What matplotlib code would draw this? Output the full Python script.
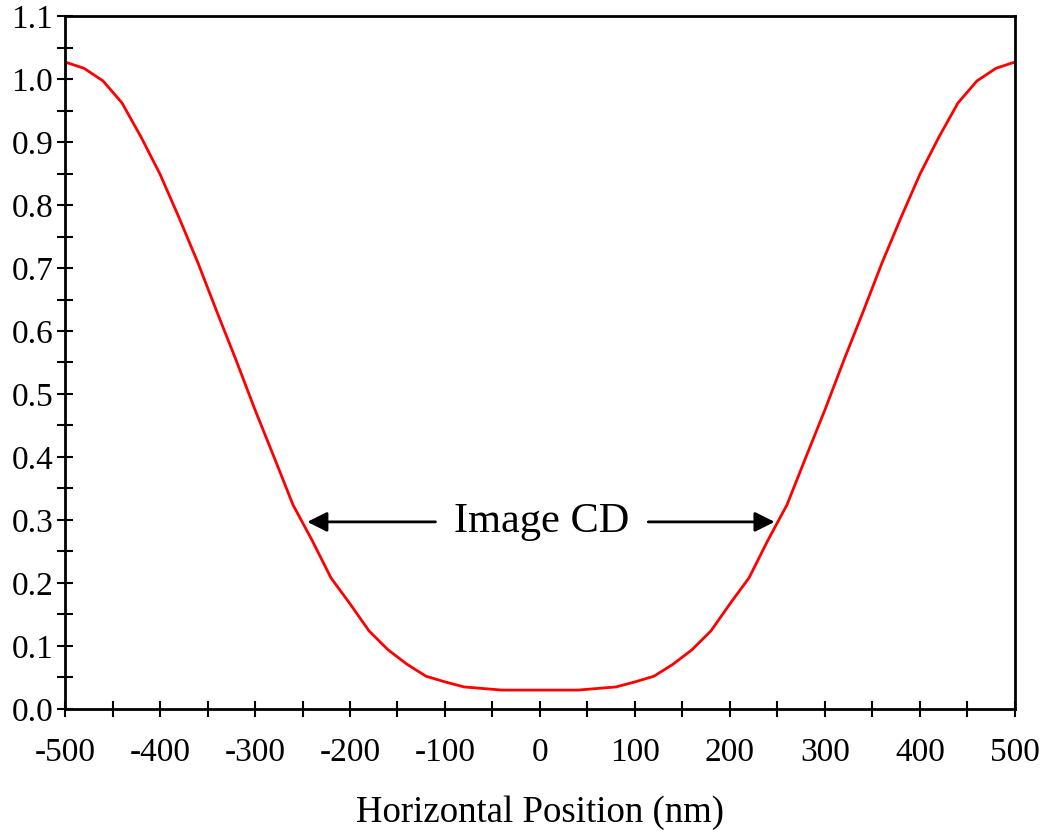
import matplotlib.pyplot as plt
from matplotlib.ticker import MultipleLocator

plt.rcParams['font.family'] = ['Liberation Serif', 'DejaVu Serif']
plt.rcParams['axes.unicode_minus'] = False

# horizontal position (nm) and relative intensity of the aerial image
position = [-500, -480, -460, -440, -420, -400, -380, -360, -340, -320, -300,
            -280, -260, -240, -220, -200, -180, -160, -140, -120, -100, -80,
            -40, 0, 40, 80, 100, 120, 140, 160, 180, 200, 220, 240, 260, 280,
            300, 320, 340, 360, 380, 400, 420, 440, 460, 480, 500]
intensity = [1.027, 1.017, 0.997, 0.962, 0.908, 0.849, 0.780, 0.708, 0.630,
             0.554, 0.475, 0.400, 0.324, 0.268, 0.208, 0.167, 0.124, 0.094,
             0.071, 0.052, 0.043, 0.035, 0.030, 0.030, 0.030, 0.035, 0.043,
             0.052, 0.071, 0.094, 0.124, 0.167, 0.208, 0.268, 0.324, 0.400,
             0.475, 0.554, 0.630, 0.708, 0.780, 0.849, 0.908, 0.962, 0.997,
             1.017, 1.027]

label_text = "Image CD"
label_x = 2
label_y = 0.297
arrow_left = (-110, -245)
arrow_right = (114, 247)

fig = plt.figure(figsize=(10.47, 8.34), dpi=100)
ax = fig.add_axes([0.0621, 0.1499, 0.9073, 0.8309])

ax.plot(position, intensity, color='red', lw=2)

ax.set_xlim(-500, 500)
ax.set_ylim(0, 1.1)
ax.xaxis.set_major_locator(MultipleLocator(100))
ax.xaxis.set_minor_locator(MultipleLocator(50))
ax.yaxis.set_major_locator(MultipleLocator(0.1))
ax.yaxis.set_minor_locator(MultipleLocator(0.05))
ax.yaxis.set_major_formatter(plt.FuncFormatter(lambda v, p: "%.1f" % v))
ax.tick_params(which='both', direction='inout', length=11, width=1.5,
               labelsize=24, top=False, right=False)
ax.tick_params(axis='y', pad=3)
ax.tick_params(axis='x', pad=15)
for s in ax.spines.values():
    s.set_linewidth(2)

ax.set_xlabel("Horizontal Position (nm)", fontsize=26.5, labelpad=20)

ax.text(label_x, label_y, label_text, fontsize=30.5, ha='center', va='center')
for tail, head in [arrow_left, arrow_right]:
    ax.annotate("", xy=(head, label_y), xytext=(tail, label_y),
                arrowprops=dict(arrowstyle='-|>', color='black', lw=2,
                                mutation_scale=30, shrinkA=0, shrinkB=0))

plt.savefig("out.png", dpi=100)
